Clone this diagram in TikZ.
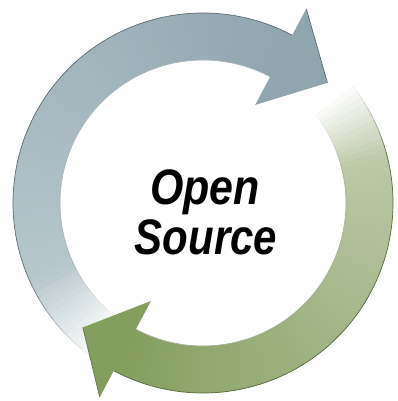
\documentclass[tikz,border=0pt]{standalone}
\usepackage{fontspec}
\setmainfont{Liberation Sans}
\usepackage{xcolor}
\usepackage{graphicx}

\definecolor{blueL}{RGB}{182,198,203}
\definecolor{blueD}{RGB}{145,165,175}
\definecolor{greenL}{RGB}{188,200,168}
\definecolor{greenD}{RGB}{132,158,94}

\begin{document}
\begin{tikzpicture}[scale=0.025,
  rim/.style={line width=0.5pt},
  lbl/.style={font=\fontsize{35.5}{40}\selectfont\bfseries\itshape,
              inner sep=0pt, anchor=base}
]
\def\rIn{143}
\def\rOut{190}
\def\rTip{173}

\useasboundingbox (-203,-198) rectangle (194,203);

% blue band, fades in at lower left and runs clockwise over the top
\foreach \a in {236,234,...,64} {
  \pgfmathsetmacro\fa{min(100,max(0,(236-\a)/31*100))}
  \pgfmathsetmacro\fb{max(0,(205-\a)/143*100)}
  \colorlet{segc}{blueD!\fb!blueL}
  \colorlet{segc}{segc!\fa!white}
  \fill[segc] (\a:\rIn) arc[start angle=\a, end angle=\a-2.6, radius=\rIn]
    -- (\a-2.6:\rOut) arc[start angle=\a-2.6, end angle=\a, radius=\rOut] -- cycle;
}
\foreach \a in {236,234,...,64} {
  \pgfmathsetmacro\fa{min(100,max(0,(236-\a)/31*100))}
  \colorlet{rimc}{black!35!blueD}
  \colorlet{rimc}{rimc!\fa!white}
  \draw[rim, rimc] (\a:\rOut) arc[start angle=\a, end angle=\a-2, radius=\rOut];
  \draw[rim, rimc!50!white] (\a:\rIn) arc[start angle=\a, end angle=\a-2, radius=\rIn];
}
\fill[blueD] (62:111) -- (44:\rTip) -- (62:220) -- cycle;
\draw[rim, black!35!blueD] (62:220) -- (44:\rTip);

% green band, fades in at upper right and runs clockwise under the bottom
\foreach \a in {40,38,...,-116} {
  \pgfmathsetmacro\fa{min(100,max(0,(40-\a)/25*100))}
  \pgfmathsetmacro\fb{max(0,(15-\a)/133*100)}
  \colorlet{segc}{greenD!\fb!greenL}
  \colorlet{segc}{segc!\fa!white}
  \fill[segc] (\a:\rIn) arc[start angle=\a, end angle=\a-2.6, radius=\rIn]
    -- (\a-2.6:\rOut) arc[start angle=\a-2.6, end angle=\a, radius=\rOut] -- cycle;
}
\foreach \a in {40,38,...,-116} {
  \pgfmathsetmacro\fa{min(100,max(0,(40-\a)/25*100))}
  \colorlet{rimc}{black!35!greenD}
  \colorlet{rimc}{rimc!\fa!white}
  \draw[rim, rimc] (\a:\rOut) arc[start angle=\a, end angle=\a-2, radius=\rOut];
  \draw[rim, rimc!50!white] (\a:\rIn) arc[start angle=\a, end angle=\a-2, radius=\rIn];
}
\fill[greenD] (242:111) -- (226:\rTip) -- (242:220) -- cycle;
\draw[rim, black!25!greenD] (242:220) -- (226:\rTip);

\node[lbl] (openTxt) at (2,-2) {\scalebox{0.86}[1]{Open}};
\node[lbl] (sourceTxt) at (3,-52) {\scalebox{0.84}[1]{Source}};
\end{tikzpicture}
\end{document}
